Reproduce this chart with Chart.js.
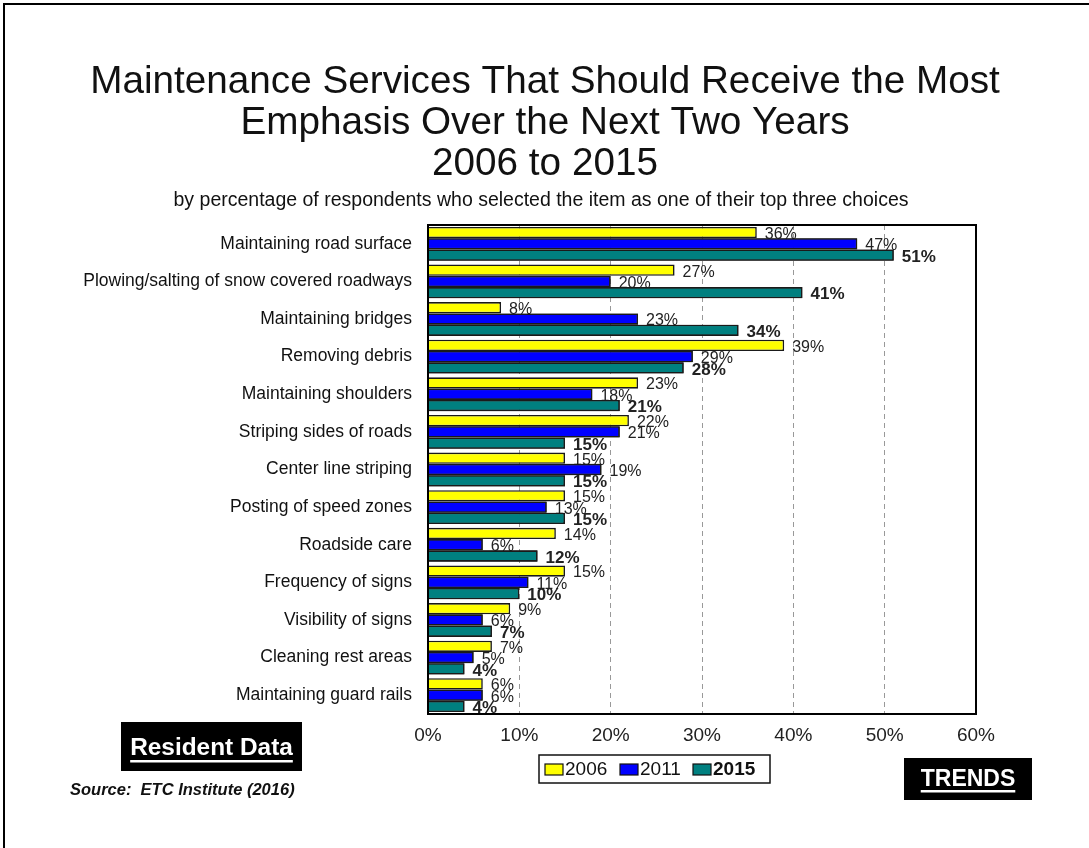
<!DOCTYPE html>
<html><head><meta charset="utf-8">
<script src="https://cdn.jsdelivr.net/npm/chart.js@4.4.1/dist/chart.umd.min.js"></script>
<style>html,body{margin:0;padding:0;background:#fff;}#wrap{position:relative;width:1089px;height:848px;}</style>
</head><body><div id="wrap"><canvas id="c" width="1089" height="848"></canvas></div>
<script>
const categories = ['Maintaining road surface','Plowing/salting of snow covered roadways','Maintaining bridges','Removing debris','Maintaining shoulders','Striping sides of roads','Center line striping','Posting of speed zones','Roadside care','Frequency of signs','Visibility of signs','Cleaning rest areas','Maintaining guard rails'];
const series2006 = [36,27,8,39,23,22,15,15,14,15,9,7,6];
const series2011 = [47,20,23,29,18,21,19,13,6,11,6,5,6];
const series2015 = [51,41,34,28,21,15,15,15,12,10,7,4,4];
const seriesNames = ['2006','2011','2015'];
const seriesColors = ['#FFFF00','#0000FF','#008080'];
const tickLabels = ['0%','10%','20%','30%','40%','50%','60%'];
const titleLines = ['Maintenance Services That Should Receive the Most','Emphasis Over the Next Two Years','2006 to 2015'];
const subtitle = 'by percentage of respondents who selected the item as one of their top three choices';
const FF = '"Liberation Sans", Arial, sans-serif';

const decor = {
  id:'decor',
  beforeDraw(chart){
    const c = chart.ctx;
    c.save(); c.fillStyle='#fff'; c.fillRect(0,0,chart.width,chart.height); c.restore();
  },
  afterDatasetsDraw(chart){
    const c = chart.ctx, a = chart.chartArea;
    c.save();
    // data labels, drawn series by series; later bars cover earlier labels
    chart.data.datasets.forEach((ds,di)=>{
      const meta = chart.getDatasetMeta(di);
      if(di>0){ meta.data.forEach(bar=>bar.draw(c)); }
      c.fillStyle='#222'; c.textBaseline='middle'; c.textAlign='left';
      c.font = (di===2 ? 'bold 17px ' : '16px ') + FF;
      meta.data.forEach((bar,i)=>{
        c.fillText(ds.data[i]+'%', bar.x+8, bar.y+2);
      });
    });
    // plot frame
    c.strokeStyle='#000'; c.lineWidth=2;
    c.strokeRect(a.left, a.top, a.right-a.left, a.bottom-a.top);
    c.restore();
  },
  afterDraw(chart){
    const c = chart.ctx;
    c.save();
    // outer frame (top and left)
    c.strokeStyle='#000'; c.lineWidth=2;
    c.beginPath(); c.moveTo(4,848); c.lineTo(4,4); c.lineTo(1089,4); c.stroke();
    // titles
    c.fillStyle='#111'; c.textAlign='center'; c.textBaseline='alphabetic';
    c.font='38.7px '+FF;
    titleLines.forEach((t,i)=>c.fillText(t,545,93+i*41));
    c.font='19.5px '+FF;
    c.fillText(subtitle,541,206);
    // legend
    c.strokeStyle='#111'; c.lineWidth=1.5;
    c.strokeRect(539,755,231,28);
    const lx=[545,620,693];
    c.textAlign='left'; c.textBaseline='middle';
    seriesNames.forEach((n,i)=>{
      c.fillStyle=seriesColors[i]; c.fillRect(lx[i],764,18,11);
      c.strokeStyle='#111'; c.lineWidth=1.2; c.strokeRect(lx[i],764,18,11);
      c.fillStyle='#111'; c.font=(i===2?'bold 19px ':'19px ')+FF;
      c.fillText(n,lx[i]+20,770);
    });
    // Resident Data box
    c.fillStyle='#000'; c.fillRect(121,722,181,49);
    c.fillStyle='#fff'; c.textAlign='center'; c.textBaseline='alphabetic';
    c.font='bold 24.4px '+FF; c.fillText('Resident Data',211.5,755);
    let w=c.measureText('Resident Data').width;
    c.fillRect(211.5-w/2,760,w,2.5);
    // TRENDS box
    c.fillStyle='#000'; c.fillRect(904,758,128,42);
    c.fillStyle='#fff'; c.font='bold 23px '+FF; c.fillText('TRENDS',968,786);
    w=c.measureText('TRENDS').width;
    c.fillRect(968-w/2,790,w,2.5);
    // source
    c.fillStyle='#111'; c.textAlign='left'; c.font='italic bold 16.5px '+FF;
    c.fillText('Source:  ETC Institute (2016)',70,795);
    c.restore();
  }
};

new Chart(document.getElementById('c'),{
  type:'bar',
  data:{
    labels:categories,
    datasets:[series2006,series2011,series2015].map((d,i)=>({
      label:seriesNames[i], data:d, backgroundColor:seriesColors[i],
      borderColor:'#1a1a1a', borderWidth:1.6, borderSkipped:'start',
      categoryPercentage:0.9, barPercentage:1.0
    }))
  },
  options:{
    indexAxis:'y', responsive:false, animation:false, devicePixelRatio:1,
    layout:{padding:{top:225,right:113,bottom:94,left:0}},
    plugins:{legend:{display:false},tooltip:{enabled:false},title:{display:false}},
    scales:{
      x:{min:0,max:60,
        ticks:{stepSize:10,color:'#222',font:{family:FF,size:19},padding:10,
          callback:(v,i)=>tickLabels[i]},
        grid:{drawTicks:false,lineWidth:1,
          color:(ctx)=>(ctx.tick && (ctx.tick.value===0||ctx.tick.value===60))?'rgba(0,0,0,0)':'#999'},
        border:{display:false,dash:[5,4]},
        afterFit:(s)=>{s.height=40;}
      },
      y:{
        ticks:{color:'#111',font:{family:FF,size:17.5},padding:16},
        grid:{display:false,drawTicks:false},
        border:{display:false},
        afterFit:(s)=>{s.width=428;}
      }
    }
  },
  plugins:[decor]
});
</script></body></html>
